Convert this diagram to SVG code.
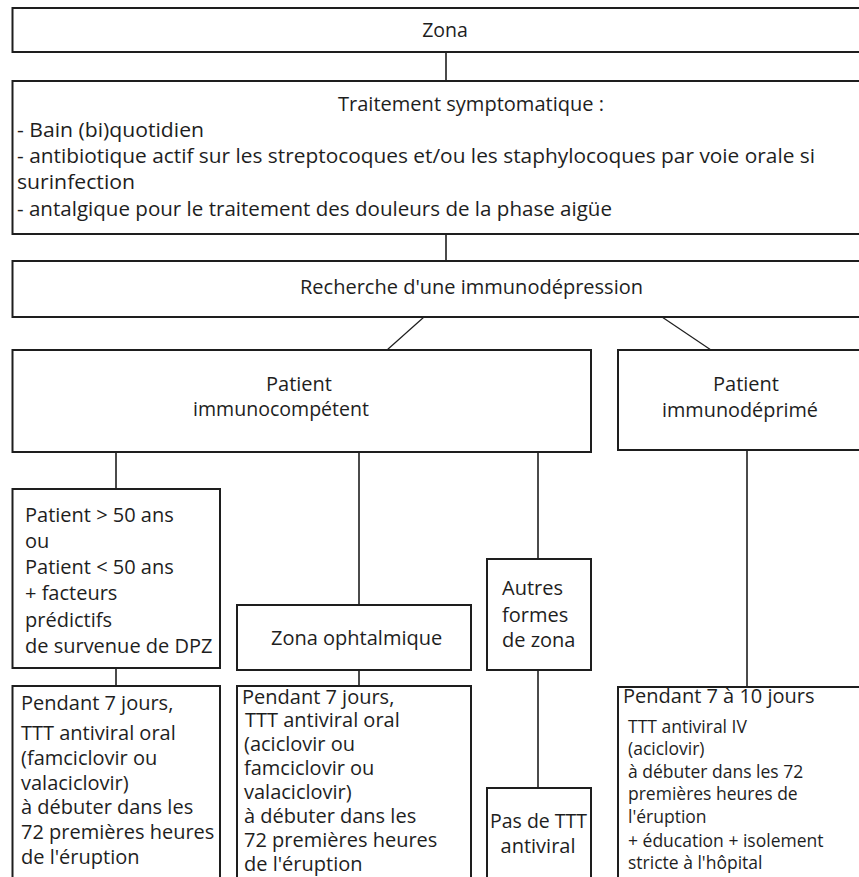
<svg xmlns="http://www.w3.org/2000/svg" width="859" height="877" viewBox="0 0 859 877">
<style>
.box{fill:#fff;stroke:#1e1e1e;stroke-width:2}
.ln{stroke:#1e1e1e;stroke-width:1.6;fill:none}
.dg{stroke:#1e1e1e;stroke-width:1.2;fill:none}
text{font-family:"Open Sans","Noto Sans",sans-serif;fill:#1e1e1e}
.t{font-size:19.5px}
.b{font-size:20px}
.s{font-size:17.5px}
.m{text-anchor:middle}
</style>
<rect width="859" height="877" fill="#fff"/>
<g id="connectors">
<line class="ln" x1="446" y1="52" x2="446" y2="81"/>
<line class="ln" x1="446" y1="234" x2="446" y2="261"/>
<line class="dg" x1="424" y1="317" x2="387" y2="350"/>
<line class="dg" x1="662" y1="317" x2="711" y2="350"/>
<line class="ln" x1="116" y1="452" x2="116" y2="489"/>
<line class="ln" x1="359" y1="452" x2="359" y2="605"/>
<line class="ln" x1="538" y1="452" x2="538" y2="559"/>
<line class="ln" x1="747" y1="450" x2="747" y2="687"/>
<line class="ln" x1="116" y1="668" x2="116" y2="686"/>
<line class="ln" x1="359" y1="670" x2="359" y2="686"/>
<line class="ln" x1="538" y1="670" x2="538" y2="788"/>
</g>
<g id="zona">
<rect class="box" x="12.5" y="8" width="860" height="44"/>
<text class="t m" x="445" y="37">Zona</text>
</g>
<g id="traitement">
<rect class="box" x="12.5" y="81" width="860" height="153"/>
<text class="t" x="338" y="111" textLength="266" lengthAdjust="spacingAndGlyphs">Traitement symptomatique :</text>
<text class="t" x="17" y="137" textLength="187" lengthAdjust="spacingAndGlyphs">- Bain (bi)quotidien</text>
<text class="t" x="17" y="163" textLength="798" lengthAdjust="spacingAndGlyphs">- antibiotique actif sur les streptocoques et/ou les staphylocoques par voie orale si</text>
<text class="t" x="17" y="189" textLength="118" lengthAdjust="spacingAndGlyphs">surinfection</text>
<text class="t" x="17" y="216" textLength="595" lengthAdjust="spacingAndGlyphs">- antalgique pour le traitement des douleurs de la phase aigüe</text>
</g>
<g id="recherche">
<rect class="box" x="12.5" y="261" width="860" height="56"/>
<text class="b" x="300" y="294" textLength="343" lengthAdjust="spacingAndGlyphs">Recherche d'une immunodépression</text>
</g>
<g id="immunocompetent">
<rect class="box" x="12.5" y="350" width="578.5" height="102"/>
<text class="b" x="266" y="391">Patient</text>
<text class="b" x="193" y="416" textLength="176" lengthAdjust="spacingAndGlyphs">immunocompétent</text>
</g>
<g id="immunodeprime">
<rect class="box" x="618" y="350" width="260" height="100"/>
<text class="b" x="713" y="391">Patient</text>
<text class="b" x="662" y="417" textLength="156" lengthAdjust="spacingAndGlyphs">immunodéprimé</text>
</g>
<g id="plus50">
<rect class="box" x="12.5" y="489" width="207.5" height="179"/>
<text class="b" x="25" y="522">Patient &gt; 50 ans</text>
<text class="b" x="25" y="548">ou</text>
<text class="b" x="25" y="574">Patient &lt; 50 ans</text>
<text class="b" x="25" y="600">+ facteurs</text>
<text class="b" x="25" y="627">prédictifs</text>
<text class="b" x="25" y="653">de survenue de DPZ</text>
</g>
<g id="ttt1">
<rect class="box" x="12.5" y="686" width="207.5" height="200"/>
<text class="b" x="21" y="710">Pendant 7 jours,</text>
<text class="b" x="21" y="740">TTT antiviral oral</text>
<text class="b" x="21" y="765">(famciclovir ou</text>
<text class="b" x="21" y="790">valaciclovir)</text>
<text class="b" x="21" y="814">à débuter dans les</text>
<text class="b" x="21" y="839">72 premières heures</text>
<text class="b" x="21" y="864">de l'éruption</text>
</g>
<g id="ophtalmique">
<rect class="box" x="237" y="605" width="234" height="65"/>
<text class="b" x="271" y="645">Zona ophtalmique</text>
</g>
<g id="ttt2">
<rect class="box" x="237" y="686" width="234" height="200"/>
<text class="b" x="242" y="704">Pendant 7 jours,</text>
<text class="b" x="245" y="727">TTT antiviral oral</text>
<text class="b" x="244" y="751">(aciclovir ou</text>
<text class="b" x="244" y="775">famciclovir ou</text>
<text class="b" x="244" y="799">valaciclovir)</text>
<text class="b" x="244" y="823">à débuter dans les</text>
<text class="b" x="244" y="847">72 premières heures</text>
<text class="b" x="244" y="871">de l'éruption</text>
</g>
<g id="autres">
<rect class="box" x="487" y="559" width="104" height="111"/>
<text class="b" x="502" y="595">Autres</text>
<text class="b" x="502" y="622">formes</text>
<text class="b" x="502" y="647">de zona</text>
</g>
<g id="pasttt">
<rect class="box" x="487" y="788" width="104" height="100"/>
<text class="b" x="490" y="828" textLength="97" lengthAdjust="spacingAndGlyphs">Pas de TTT</text>
<text class="b m" x="538" y="853">antiviral</text>
</g>
<g id="ttt3">
<rect class="box" x="618" y="687" width="260" height="200"/>
<text class="b" x="623" y="703">Pendant 7 à 10 jours</text>
<text class="s" x="628" y="733">TTT antiviral IV</text>
<text class="s" x="628" y="755">(aciclovir)</text>
<text class="s" x="628" y="778">à débuter dans les 72</text>
<text class="s" x="628" y="800">premières heures de</text>
<text class="s" x="628" y="823">l'éruption</text>
<text class="s" x="628" y="847">+ éducation + isolement</text>
<text class="s" x="628" y="869">stricte à l'hôpital</text>
</g>
</svg>
